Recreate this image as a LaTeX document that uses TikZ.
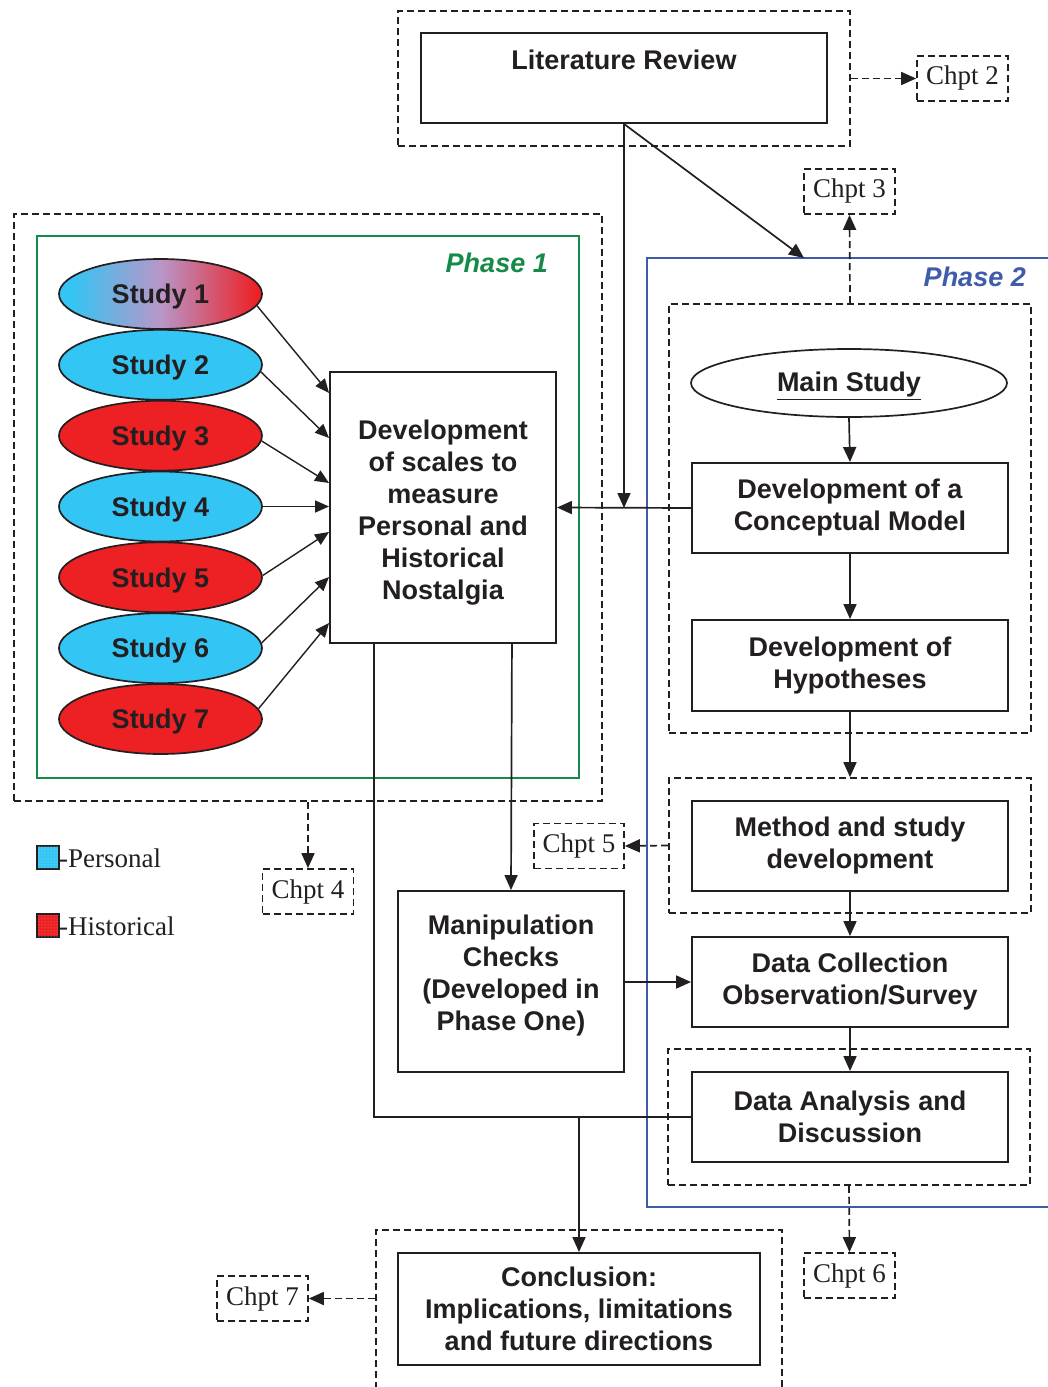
\documentclass[tikz,border=0pt]{standalone}
\usepackage{fontspec}
\setmainfont{Liberation Serif}
\setsansfont{Liberation Sans}
\usetikzlibrary{shapes.geometric,arrows.meta,calc,patterns}

\definecolor{pcyan}{RGB}{51,197,244}
\definecolor{pred}{RGB}{237,32,36}
\definecolor{pmauve}{RGB}{184,150,200}
\definecolor{pgreen}{RGB}{22,138,72}
\definecolor{pblue}{RGB}{63,91,169}
\definecolor{ink}{RGB}{35,31,32}

% cyan -> mauve -> red, left to right
\pgfdeclarehorizontalshading{mixstudy}{100bp}{%
  color(0bp)=(pcyan); color(28bp)=(pcyan); color(50bp)=(pmauve);
  color(74bp)=(pred); color(100bp)=(pred)}

\tikzset{
  bigfont/.style={font=\sffamily\bfseries\fontsize{27}{32}\selectfont},
  box/.style={draw=ink, line width=1.9pt, fill=white, align=center, text=ink,
    inner sep=0pt, bigfont},
  boxtext/.style={align=center, text=ink, inner sep=0pt, bigfont},
  group/.style={draw=ink, line width=1.7pt, dash pattern=on 7pt off 4pt,
    inner sep=0pt},
  chpt/.style={draw=ink, line width=1.7pt, dash pattern=on 7pt off 4pt,
    font=\fontsize{27}{32}\selectfont, text=ink, minimum width=91,
    minimum height=45, inner sep=0pt},
  study/.style={ellipse, draw=ink, line width=1.7pt, minimum width=203,
    minimum height=70, inner sep=0pt, text=ink, text depth=0pt, bigfont},
  phase/.style={font=\sffamily\bfseries\itshape\fontsize{27}{32}\selectfont,
    inner sep=0pt, anchor=east},
  arr/.style={-{Triangle[length=15pt,width=13pt]}, line width=1.7pt, draw=ink},
  thinarr/.style={-{Triangle[length=14pt,width=12pt]}, line width=1.4pt, draw=ink},
  darr/.style={arr, dash pattern=on 7pt off 4pt},
  plain/.style={line width=1.7pt, draw=ink},
  legend/.style={anchor=base west, inner sep=0pt, text=ink,
    font=\fontsize{27}{32}\selectfont},
  legsq/.style={draw=ink, line width=1.7pt, minimum width=22, minimum height=23,
    inner sep=0pt},
}

\begin{document}
\begin{tikzpicture}[x=1pt,y=-1pt]
\useasboundingbox (0,0) rectangle (1047,1387);

% ---------- Literature review ----------
\node[group, minimum width=452, minimum height=135] (litgrp) at (624,78.5) {};
\node[box, minimum width=406, minimum height=90] (lit) at (624,78) {};
\node[boxtext, anchor=base] (litT) at (624,69.5) {Literature Review};
\node[chpt] (chpt2) at (962.5,78.5) {Chpt 2};
\node[chpt] (chpt3) at (849.5,191.5) {Chpt 3};
\draw[darr] (litgrp.east) -- (chpt2.west);

% ---------- Phase 2 frame ----------
\draw[pblue, line width=1.4pt] (1060,258) -| (647,1207) -- (1060,1207);
\node[phase, text=pblue] (ph2) at (1026,277) {Phase 2};
\coordinate (p2top) at (804,258);

% ---------- Phase 1 ----------
\node[group, minimum width=588, minimum height=587] (p1grp) at (308,507.5) {};
\node[draw=pgreen, line width=1.6pt, minimum width=542, minimum height=542,
  inner sep=0pt] (p1box) at (308,507) {};
\node[phase, text=pgreen] (ph1) at (548,263) {Phase 1};

\node[study, shading=mixstudy] (s1) at (160.5,294) {Study 1};
\node[study, fill=pcyan] (s2) at (160.5,364.8) {Study 2};
\node[study, fill=pred]  (s3) at (160.5,435.7) {Study 3};
\node[study, fill=pcyan] (s4) at (160.5,506.5) {Study 4};
\node[study, fill=pred]  (s5) at (160.5,577.3) {Study 5};
\node[study, fill=pcyan] (s6) at (160.5,648.2) {Study 6};
\node[study, fill=pred]  (s7) at (160.5,719) {Study 7};

\node[box, minimum width=226, minimum height=271] (scales) at (443,507.5) {};
\node[boxtext] (scalesT) at (443,512.5)
  {Development\\of scales to\\measure\\Personal and\\Historical\\Nostalgia};

\coordinate (t1) at ($(scales.west)+(0,-114.5)$);
\coordinate (t2) at ($(scales.west)+(0,-69.5)$);
\coordinate (t3) at ($(scales.west)+(0,-24.5)$);
\coordinate (t5) at ($(scales.west)+(0,24.5)$);
\coordinate (t6) at ($(scales.west)+(0,69.5)$);
\coordinate (t7) at ($(scales.west)+(0,115.5)$);
\draw[thinarr] (s1.-7) -- (t1);
\draw[thinarr] (s2.-4.5) -- (t2);
\draw[thinarr] (s3.-3) -- (t3);
\draw[thinarr] (s4.east) -- (s4.east -| scales.west);
\draw[thinarr] (s5.1) -- (t5);
\draw[thinarr] (s6.3) -- (t6);
\draw[thinarr] (s7.6) -- (t7);

\node[chpt] (chpt4) at (308,891.5) {Chpt 4};
\draw[darr] (p1grp.south) -- (chpt4.north);

% ---------- Legend ----------
\node[legsq, fill=pcyan,
  postaction={pattern=dots, pattern color=white!55!pcyan}] (legP) at (48,857.5) {};
\node[legend] (legPT) at (59,867) {-Personal};
\node[legsq, fill=pred,
  postaction={pattern=dots, pattern color=white!45!pred}] (legH) at (48,925.5) {};
\node[legend] (legHT) at (59,935) {-Historical};

% ---------- Phase 2 contents ----------
\node[group, minimum width=362, minimum height=429] (p2grp) at (850,518.5) {};
\draw[darr] (p2grp.north) -- (chpt3.south);
\draw[arr] (lit.south) -- (p2top);

\node[ellipse, draw=ink, line width=1.7pt, fill=white, minimum width=316,
  minimum height=68, inner sep=0pt] (main) at (849,383) {};
\node[boxtext] (mainT) at (849,386) {\underline{Main Study}};
\node[box, minimum width=316, minimum height=90] (concept) at (850,508)
  {Development of a\\Conceptual Model};
\node[box, minimum width=316, minimum height=91] (hyp) at (850,665.5)
  {Development of\\Hypotheses};
\draw[arr] (main.south) -- (concept.north);
\draw[arr] (concept.south) -- (hyp.north);

\coordinate (join) at (lit.south |- concept.west);
\draw[arr] (lit.south) -- (join);
\draw[arr] (concept.west) -- (scales.east);

\node[group, minimum width=362, minimum height=135] (methgrp) at (850,845.5) {};
\node[box, minimum width=316, minimum height=90] (method) at (850,846)
  {Method and study\\development};
\draw[arr] (hyp.south) -- (methgrp.north);
\node[chpt, minimum width=90] (chpt5) at (579,846) {Chpt 5};
\draw[darr] (methgrp.west) -- (chpt5.east);

\node[box, minimum width=316, minimum height=90] (dc) at (850,982)
  {Data Collection\\Observation/Survey};
\draw[arr] (method.south) -- (dc.north);

\node[group, minimum width=362, minimum height=136] (dagrp) at (849,1117) {};
\node[box, minimum width=316, minimum height=90] (da) at (850,1117)
  {Data Analysis and\\Discussion};
\draw[arr] (dc.south) -- (da.north);
\node[chpt] (chpt6) at (849.5,1275.5) {Chpt 6};
\draw[darr] (dagrp.south) -- (chpt6.north);

% ---------- Manipulation checks ----------
\node[box, minimum width=226, minimum height=181] (manip) at (511,981.5) {};
\node[boxtext] (manipT) at (511,976)
  {Manipulation\\Checks\\(Developed in\\Phase One)};
\draw[arr] ($(scales.south east)+(-45,0)$) -- (manip.north);
\draw[arr] (manip.east |- dc.west) -- (dc.west);

% ---------- Conclusion ----------
\node[group, minimum width=406, minimum height=180] (conclgrp) at (579,1320) {};
\node[box, minimum width=362, minimum height=112] (concl) at (579,1309)
  {Conclusion:\\Implications, limitations\\and future directions};
\node[chpt] (chpt7) at (262.5,1298.5) {Chpt 7};
\draw[darr] (conclgrp.west |- chpt7.east) -- (chpt7.east);

\draw[plain] ($(scales.south west)+(45,0)$) |- (da.west);
\draw[arr] (concl.north |- da.west) -- (concl.north);

\end{tikzpicture}
\end{document}
